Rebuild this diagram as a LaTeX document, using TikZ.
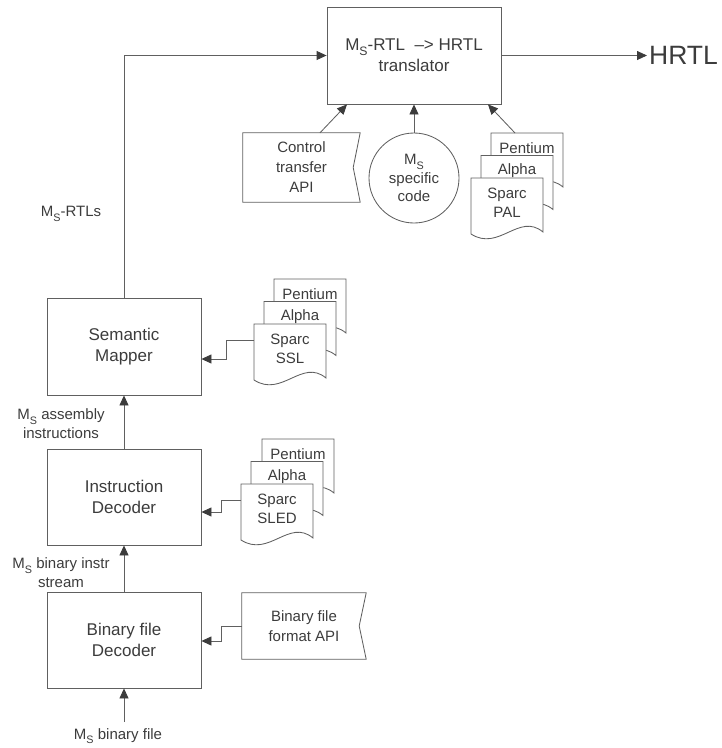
\documentclass[tikz,border=0pt]{standalone}
\usepackage{fontspec}
\setmainfont{Liberation Sans}
\usetikzlibrary{arrows.meta}

\definecolor{ink}{HTML}{3C3C3C}
\definecolor{wire}{HTML}{606060}

% machine-specific "M" with a lowered subscript S
\newcommand\Msub{M\raisebox{-0.3em}{\fontsize{0.72em}{0.72em}\selectfont S}}

\tikzset{
  every node/.style={text=ink},
  proc/.style={draw=wire, line width=0.85pt, inner sep=0pt, align=center,
               minimum width=154pt, minimum height=96pt,
               font=\fontsize{17}{21}\selectfont},
  apibox/.style={inner sep=0pt, align=center,
                 font=\fontsize{15}{20}\selectfont},
  apiline/.style={draw=wire, line width=0.85pt},
  page/.style={draw=wire, fill=white, line width=0.85pt},
  doctext/.style={inner sep=0pt, align=center, font=\fontsize{15}{19}\selectfont},
  lab/.style={inner sep=0pt, align=center, font=\fontsize{15}{19}\selectfont},
  flow/.style={draw=wire, line width=0.85pt,
               -{Triangle[length=10pt,width=9pt,color=ink]}},
}

% one page of a document stack: top-left corner, name, text, text centre height
\newcommand\docpage[5]{%
  \begin{scope}[shift={(#1,#2)}]
    \filldraw[page] (0,0) -- (72,0) -- (72,54)
      .. controls (48,34) and (28,74) .. (0,56) -- cycle;
    \coordinate (#3 in) at (0,16);
    \coordinate (#3 top) at (24,0);
    \node[doctext] (#3) at (36,#5) {#4};
  \end{scope}}

% outline of an interface description (notched right edge)
\newcommand\apioutline[1]{%
  \draw[apiline] (#1.north west) -- (#1.north east) -- ([xshift=-7pt]#1.east)
    -- (#1.south east) -- (#1.south west) -- cycle;}

\begin{document}
\begin{tikzpicture}[x=1pt,y=-1pt]
\useasboundingbox (0,0) rectangle (722,748);

% processing stages
\node[proc, minimum width=174pt, minimum height=97pt] (trans) at (414,55.5)
  {\Msub-RTL~ –> HRTL\\translator};
\node[proc, minimum height=97pt] (sem) at (124,346.5) {Semantic\\Mapper};
\node[proc] (idec) at (124,497) {Instruction\\Decoder};
\node[proc] (bdec) at (124,640) {Binary file\\Decoder};

\node[font=\fontsize{26.5}{30}\selectfont, anchor=west, inner sep=2pt] (hrtl)
  at (647,55.5) {HRTL};

% inputs of the translator
\node[apibox, minimum width=117pt, minimum height=69pt] (ctl) at (301.5,167.5)
  {Control\\transfer\\API};
\apioutline{ctl}
\node[circle, draw=wire, line width=0.85pt, minimum size=90pt, inner sep=0pt,
      align=center, font=\fontsize{15}{18.5}\selectfont] (msc) at (414,178)
  {\Msub\\specific\\code};

\docpage{491}{133}{pal1}{Pentium}{15.5}
\docpage{481}{155.5}{pal2}{Alpha}{15.5}
\docpage{471}{178}{pal3}{Sparc\\PAL}{25}

% semantic specifications
\docpage{274}{279}{ssl1}{Pentium}{15.5}
\docpage{264}{301.5}{ssl2}{Alpha}{15.5}
\docpage{254}{324}{ssl3}{Sparc\\SSL}{25}

% instruction specifications
\docpage{262}{439}{sled1}{Pentium}{15.5}
\docpage{251}{461.5}{sled2}{Alpha}{15.5}
\docpage{241}{484}{sled3}{Sparc\\SLED}{25}

% binary file format interface
\node[apibox, minimum width=124pt, minimum height=66pt] (bapi) at (304,626)
  {Binary file\\format API};
\apioutline{bapi}

% edge labels
\node[lab] (lrtl) at (71,214) {\Msub-RTLs};
\node[lab] (lasm) at (61,424) {\Msub{} assembly\\instructions};
\node[lab] (lbin) at (61,573) {\Msub{} binary instr\\stream};
\node[lab] (lfile) at (118,736) {\Msub{} binary file};
\coordinate (fin) at (124,722);

% main data path
\draw[flow] (fin) -- (bdec.south);
\draw[flow] (bdec.north) -- (idec.south);
\draw[flow] (idec.north) -- (sem.south);
\draw[flow] (sem.north) |- (trans.west);
\draw[flow] (trans.east) -- (hrtl.west);

% translator inputs
\draw[flow] ([xshift=18.5pt]ctl.north) -- ([xshift=-67pt]trans.south);
\draw[flow] (msc.north) -- (trans.south);
\draw[flow] (pal1 top) -- ([xshift=74pt]trans.south);

% specification inputs
\draw[flow] (ssl3 in) -- ++(-28,0) |- ([yshift=-12.5pt]sem.east);
\draw[flow] (sled3 in) -- ++(-20,0) |- ([yshift=-15pt]idec.east);
\draw[flow] (bapi.west) -- ++(-20,0) |- ([yshift=-1pt]bdec.east);
\end{tikzpicture}
\end{document}
